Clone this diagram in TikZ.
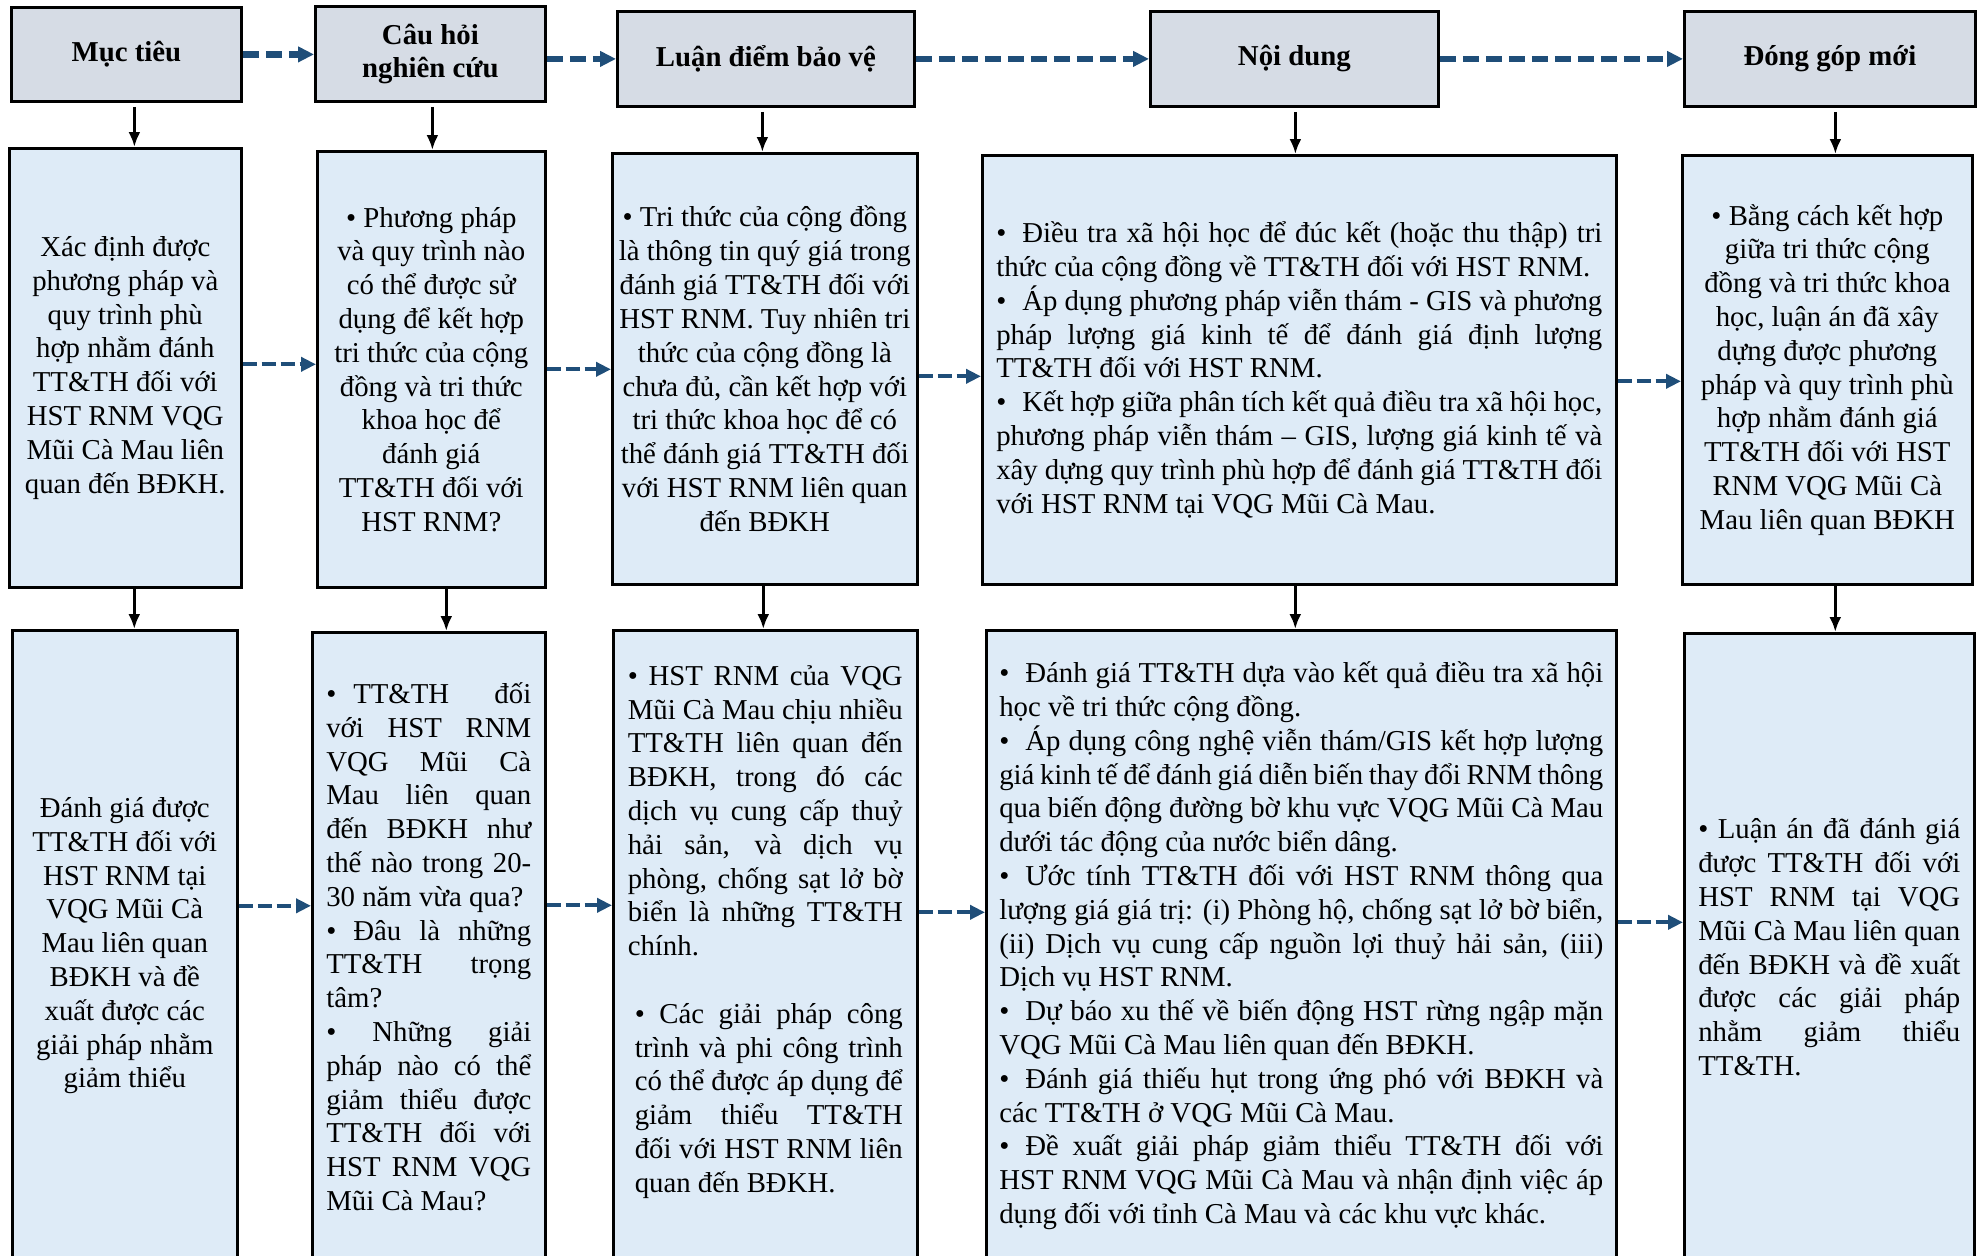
\documentclass[tikz,border=0pt]{standalone}
\usepackage{fontspec}
\setmainfont{Liberation Serif}
\usetikzlibrary{arrows.meta}

\definecolor{headfill}{RGB}{214,220,229}
\definecolor{cellfill}{RGB}{222,235,247}
\definecolor{flowblue}{RGB}{31,78,121}

% lines of a cell: justified, centred, natural width
\newcommand{\jrow}[1]{\hbox to\hsize{#1}}
\newcommand{\crow}[1]{\hbox to\hsize{\hss#1\hss}}
\newcommand{\lrow}[1]{\hbox{#1}}
\newcommand{\bul}[1]{\makebox[#1][l]{\textbullet}}
% a stack of lines of the given width
\newcommand{\cellv}[2]{\vbox{\hsize=#1\relax\lineskiplimit=-20pt\relax #2}}

\tikzset{
  headbox/.style={draw=black, line width=1.4pt, fill=headfill, anchor=north west,
    inner sep=0pt, align=center, font=\bfseries\fontsize{14.4}{16.5}\selectfont},
  cellbox/.style={draw=black, line width=1.3pt, fill=cellfill, anchor=north west,
    inner sep=0pt, font=\fontsize{14.4}{16.9}\selectfont},
  downarrow/.style={black, line width=1.5pt, -{Latex[length=7.5pt,width=6pt]}},
  headflow/.style={flowblue, line width=3.2pt, dash pattern=on 8pt off 3.5pt,
    -{Triangle[length=8pt,width=7.5pt]}},
  cellflow/.style={flowblue, line width=2pt, dash pattern=on 7pt off 2.5pt,
    -{Triangle[length=7.5pt,width=7pt]}},
}

\begin{document}
\begin{tikzpicture}[x=0.5pt,y=-0.5pt]
\useasboundingbox (0,0) rectangle (1977,1255);
\clip (0,0) rectangle (1977,1255);
\fill[white] (0,0) rectangle (1977,1255);

% ---------- column headings ----------
\node[headbox, minimum width=115pt, minimum height=47pt] (H1) at (10,6) {Mục tiêu};
\node[headbox, minimum width=115pt, minimum height=47.5pt] (H2) at (314,5) {Câu hỏi\\nghiên cứu};
\node[headbox, minimum width=148.5pt, minimum height=47.5pt] (H3) at (616,10) {Luận điểm bảo vệ};
\node[headbox, minimum width=144pt, minimum height=47.5pt] (H4) at (1149,10) {Nội dung};
\node[headbox, minimum width=145.5pt, minimum height=47.5pt] (H5) at (1683,10) {Đóng góp mới};

% ---------- first row of cells ----------
\node[cellbox, minimum width=116pt, minimum height=219.5pt] (B1) at (8,147) {\cellv{108pt}{%
\crow{Xác định được}
\crow{phương pháp và}
\crow{quy trình phù}
\crow{hợp nhằm đánh}
\crow{TT\&TH đối với}
\crow{HST RNM VQG}
\crow{Mũi Cà Mau liên}
\crow{quan đến BĐKH.}}};

\node[cellbox, minimum width=114pt, minimum height=218pt] (B2) at (316,150) {\cellv{106pt}{%
\crow{\textbullet{} Phương pháp}
\crow{và quy trình nào}
\crow{có thể được sử}
\crow{dụng để kết hợp}
\crow{tri thức của cộng}
\crow{đồng và tri thức}
\crow{khoa học để}
\crow{đánh giá}
\crow{TT\&TH đối với}
\crow{HST RNM?}}};

\node[cellbox, minimum width=152.5pt, minimum height=215.5pt] (B3) at (611,152) {\cellv{148pt}{%
\crow{\textbullet{} Tri thức của cộng đồng}
\crow{là thông tin quý giá trong}
\crow{đánh giá TT\&TH đối với}
\crow{HST RNM. Tuy nhiên tri}
\crow{thức của cộng đồng là}
\crow{chưa đủ, cần kết hợp với}
\crow{tri thức khoa học để có}
\crow{thể đánh giá TT\&TH đối}
\crow{với HST RNM liên quan}
\crow{đến BĐKH}}};

\node[cellbox, minimum width=317pt, minimum height=214.5pt] (B4) at (981,154) {\cellv{303pt}{%
\jrow{\bul{13pt}Điều tra xã hội học để đúc kết (hoặc thu thập) tri}
\lrow{thức của cộng đồng về TT\&TH đối với HST RNM.}
\jrow{\bul{13pt}Áp dụng phương pháp viễn thám - GIS và phương}
\jrow{pháp lượng giá kinh tế để đánh giá định lượng}
\lrow{TT\&TH đối với HST RNM.}
\jrow{\bul{13pt}Kết hợp giữa phân tích kết quả điều tra xã hội học,}
\jrow{phương pháp viễn thám – GIS, lượng giá kinh tế và}
\jrow{xây dựng quy trình phù hợp để đánh giá TT\&TH đối}
\lrow{với HST RNM tại VQG Mũi Cà Mau.}}};

\node[cellbox, minimum width=145pt, minimum height=214.5pt] (B5) at (1681,154) {\cellv{138pt}{%
\crow{\textbullet{} Bằng cách kết hợp}
\crow{giữa tri thức cộng}
\crow{đồng và tri thức khoa}
\crow{học, luận án đã xây}
\crow{dựng được phương}
\crow{pháp và quy trình phù}
\crow{hợp nhằm đánh giá}
\crow{TT\&TH đối với HST}
\crow{RNM VQG Mũi Cà}
\crow{Mau liên quan BĐKH}}};

% ---------- second row of cells ----------
\node[cellbox, minimum width=112.5pt, minimum height=315.5pt] (C1) at (11,629) {\cellv{106pt}{%
\crow{Đánh giá được}
\crow{TT\&TH đối với}
\crow{HST RNM tại}
\crow{VQG Mũi Cà}
\crow{Mau liên quan}
\crow{BĐKH và đề}
\crow{xuất được các}
\crow{giải pháp nhằm}
\crow{giảm thiểu}}};

\node[cellbox, minimum width=116.5pt, minimum height=314.5pt] (C2) at (311,631) {\cellv{102.5pt}{%
\jrow{\bul{13.5pt}TT\&TH đối}
\jrow{với HST RNM}
\jrow{VQG Mũi Cà}
\jrow{Mau liên quan}
\jrow{đến BĐKH như}
\jrow{thế nào trong 20-}
\lrow{30 năm vừa qua?}
\jrow{\bul{13.5pt}Đâu là những}
\jrow{TT\&TH trọng}
\lrow{tâm?}
\jrow{\textbullet{} Những giải}
\jrow{pháp nào có thể}
\jrow{giảm thiểu được}
\jrow{TT\&TH đối với}
\jrow{HST RNM VQG}
\lrow{Mũi Cà Mau?}}};

\node[cellbox, minimum width=152pt, minimum height=315.5pt] (C3) at (612,629) {\cellv{137.5pt}{%
\jrow{\textbullet{} HST RNM của VQG}
\jrow{Mũi Cà Mau chịu nhiều}
\jrow{TT\&TH liên quan đến}
\jrow{BĐKH, trong đó các}
\jrow{dịch vụ cung cấp thuỷ}
\jrow{hải sản, và dịch vụ}
\jrow{phòng, chống sạt lở bờ}
\jrow{biển là những TT\&TH}
\lrow{chính.}
\lrow{}
\jrow{\hskip3.5pt\textbullet{} Các giải pháp công}
\jrow{\hskip3.5pt trình và phi công trình}
\jrow{\hskip3.5pt có thể được áp dụng để}
\jrow{\hskip3.5pt giảm thiểu TT\&TH}
\jrow{\hskip3.5pt đối với HST RNM liên}
\lrow{\hskip3.5pt quan đến BĐKH.}
\lrow{}}};

\node[cellbox, minimum width=315pt, minimum height=315.5pt] (C4) at (985,629) {\cellv{302pt}{%
\jrow{\bul{13pt}Đánh giá TT\&TH dựa vào kết quả điều tra xã hội}
\lrow{học về tri thức cộng đồng.}
\jrow{\bul{13pt}Áp dụng công nghệ viễn thám/GIS kết hợp lượng}
\jrow{giá kinh tế để đánh giá diễn biến thay đổi RNM thông}
\jrow{qua biến động đường bờ khu vực VQG Mũi Cà Mau}
\lrow{dưới tác động của nước biển dâng.}
\jrow{\bul{13pt}Ước tính TT\&TH đối với HST RNM thông qua}
\jrow{lượng giá giá trị: (i) Phòng hộ, chống sạt lở bờ biển,}
\jrow{(ii) Dịch vụ cung cấp nguồn lợi thuỷ hải sản, (iii)}
\lrow{Dịch vụ HST RNM.}
\jrow{\bul{13pt}Dự báo xu thế về biến động HST rừng ngập mặn}
\lrow{VQG Mũi Cà Mau liên quan đến BĐKH.}
\jrow{\bul{13pt}Đánh giá thiếu hụt trong ứng phó với BĐKH và}
\lrow{các TT\&TH ở VQG Mũi Cà Mau.}
\jrow{\bul{13pt}Đề xuất giải pháp giảm thiểu TT\&TH đối với}
\jrow{HST RNM VQG Mũi Cà Mau và nhận định việc áp}
\lrow{dụng đối với tỉnh Cà Mau và các khu vực khác.}}};

\node[cellbox, minimum width=145pt, minimum height=314pt] (C5) at (1683,632) {\cellv{131pt}{%
\jrow{\textbullet{} Luận án đã đánh giá}
\jrow{được TT\&TH đối với}
\jrow{HST RNM tại VQG}
\jrow{Mũi Cà Mau liên quan}
\jrow{đến BĐKH và đề xuất}
\jrow{được các giải pháp}
\jrow{nhằm giảm thiểu}
\lrow{TT\&TH.}}};

% ---------- vertical links ----------
\coordinate (a1) at ([xshift=4pt]H1.south);
\coordinate (a2) at ([xshift=1pt]H2.south);
\coordinate (a3) at ([xshift=-1.75pt]H3.south);
\coordinate (a4) at ([xshift=0.5pt]H4.south);
\coordinate (a5) at ([xshift=2.75pt]H5.south);
\foreach \i in {1,...,5}
  \draw[downarrow, shorten <=2pt] (a\i) -- (a\i |- B\i.north);

\coordinate (b1) at ([xshift=4.5pt]B1.south);
\coordinate (b2) at ([xshift=7.5pt]B2.south);
\coordinate (b3) at ([xshift=-0.75pt]B3.south);
\coordinate (b4) at ([xshift=-2pt]B4.south);
\coordinate (b5) at ([xshift=4pt]B5.south);
\foreach \i in {1,...,5}
  \draw[downarrow] (b\i) -- (b\i |- C\i.north);

% ---------- horizontal flow ----------
\draw[headflow] (H1.east) -- (H1.east -| H2.west);
\draw[headflow] (H2.east |- H3.west) -- (H3.west);
\draw[headflow] (H3.east) -- (H3.east -| H4.west);
\draw[headflow] (H4.east) -- (H4.east -| H5.west);

\coordinate (f1) at ([yshift=1.75pt]B1.east);
\coordinate (f2) at (B2.east);
\coordinate (f3) at ([yshift=-3.75pt]B3.east);
\coordinate (f4) at ([yshift=-5.75pt]B4.east);
\draw[cellflow] (f1) -- (f1 -| B2.west);
\draw[cellflow] (f2) -- (f2 -| B3.west);
\draw[cellflow] (f3) -- (f3 -| B4.west);
\draw[cellflow] (f4) -- (f4 -| B5.west);

\coordinate (g1) at ([yshift=20pt]C1.east);
\coordinate (g2) at ([yshift=20.75pt]C2.east);
\coordinate (g3) at ([yshift=16.75pt]C3.east);
\coordinate (g4) at ([yshift=11.75pt]C4.east);
\draw[cellflow] (g1) -- (g1 -| C2.west);
\draw[cellflow] (g2) -- (g2 -| C3.west);
\draw[cellflow] (g3) -- (g3 -| C4.west);
\draw[cellflow] (g4) -- (g4 -| C5.west);
\end{tikzpicture}
\end{document}
